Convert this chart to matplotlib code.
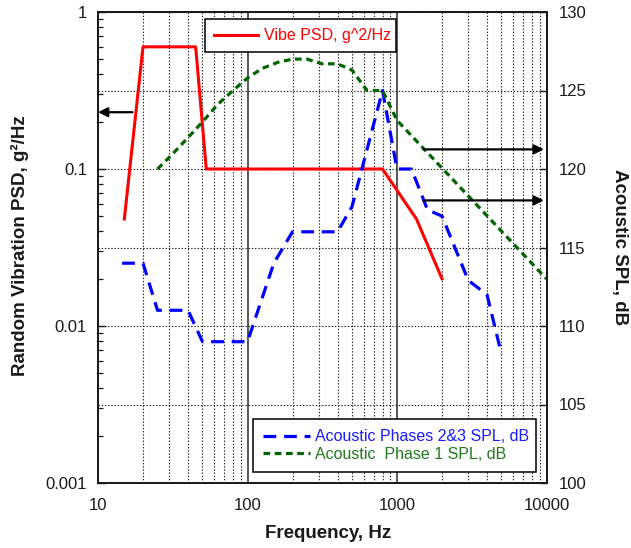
import matplotlib
matplotlib.use("Agg")
import matplotlib.pyplot as plt
from matplotlib.ticker import LogLocator, FixedLocator, FuncFormatter, NullFormatter, NullLocator
from matplotlib.lines import Line2D

# Random vibration PSD envelope (left axis, g^2/Hz)
vibe_freq = [15, 20, 45, 53, 800, 1350, 2000]
vibe_psd = [0.048, 0.6, 0.6, 0.1, 0.1, 0.048, 0.02]

# Acoustic Phase 1 SPL (right axis, dB)
p1_freq = [25, 31.5, 40, 50, 63, 80, 100, 125, 160, 200, 250, 315, 400,
           500, 630, 800, 1000, 10000]
p1_spl = [120.0, 120.95, 122.0, 123.0, 124.1, 125.0, 125.8, 126.4, 126.8,
          127.0, 127.0, 126.7, 126.7, 126.3, 125.0, 125.0, 123.1, 113.0]

# Acoustic Phases 2&3 SPL (right axis, dB)
p23_freq = [14.5, 20, 25, 40, 50, 100, 150, 200, 400, 500, 800, 1000, 1250,
            1600, 2000, 3000, 4000, 5000]
p23_spl = [114, 114, 111, 111, 109, 109, 114, 116, 116, 117.6, 125, 120, 120,
           117.4, 117, 112.9, 112, 108.2]

# Pointer arrows showing which axis each curve belongs to
psd_arrow_freq = [17, 10]          # tail, head
psd_arrow_level = 0.23
spl_arrow_freq = [1500, 9600]      # tail, head
spl_arrow_levels = [121.25, 118.0]

freq_ticks = [10, 100, 1000, 10000]
psd_ticks = [0.001, 0.01, 0.1, 1]
spl_ticks = [100, 105, 110, 115, 120, 125, 130]

vibe_label = "Vibe PSD, g^2/Hz"
p23_label = "Acoustic Phases 2&3 SPL, dB"
p1_label = "Acoustic  Phase 1 SPL, dB"

RED = "#ff0000"
BLUE = "#0000ff"
GREEN = "#006400"
INK = "#1a1a1a"

plt.rcParams["font.family"] = ["Liberation Sans", "DejaVu Sans"]
plt.rcParams["lines.scale_dashes"] = False

fig = plt.figure(figsize=(6.31, 5.48), dpi=100)
pos = [98 / 631, 65 / 548, 448.5 / 631, 471 / 548]

# --- background grid layer -------------------------------------------------
gax = fig.add_axes(pos, zorder=0)
gax.set_xscale("log")
gax.set_xlim(10, 10000)
gax.set_ylim(100, 130)
gax.xaxis.set_major_locator(FixedLocator(freq_ticks))
gax.xaxis.set_minor_locator(LogLocator(base=10, subs=range(2, 10)))
gax.xaxis.set_minor_formatter(NullFormatter())
gax.set_yticks(spl_ticks)
dot = (0, (1.0, 1.3))
gax.grid(True, which="major", axis="x", color="#2a2a2a", lw=1.1, ls="-")
gax.grid(True, which="minor", axis="x", color="#222222", lw=0.8, ls=dot)
gax.grid(True, which="major", axis="y", color="#222222", lw=0.8, ls=dot)
gax.tick_params(which="both", length=0, labelbottom=False, labelleft=False)
for s in gax.spines.values():
    s.set_visible(False)

# --- left axis: vibration PSD ---------------------------------------------
ax = fig.add_axes(pos, zorder=1)
ax.patch.set_visible(False)
ax.set_xscale("log")
ax.set_yscale("log")
ax.set_xlim(10, 10000)
ax.set_ylim(0.001, 1)
ax.xaxis.set_major_locator(FixedLocator(freq_ticks))
ax.xaxis.set_minor_locator(NullLocator())
ax.xaxis.set_major_formatter(FuncFormatter(lambda v, p: f"{v:g}"))
ax.yaxis.set_major_locator(FixedLocator(psd_ticks))
ax.yaxis.set_minor_locator(LogLocator(base=10, subs=range(2, 10)))
ax.yaxis.set_minor_formatter(NullFormatter())
ax.yaxis.set_major_formatter(FuncFormatter(lambda v, p: f"{v:g}"))
ax.tick_params(axis="x", which="major", length=0, pad=11, labelsize=12,
               labelcolor=INK)
ax.tick_params(axis="y", which="major", direction="in", length=6, width=1.0,
               pad=8, labelsize=12, labelcolor=INK, color=INK)
ax.tick_params(axis="y", which="minor", direction="in", length=3.5,
               width=0.9, color=INK)
for s in ax.spines.values():
    s.set_linewidth(1.3)
    s.set_color(INK)

ax.plot(vibe_freq, vibe_psd, color=RED, lw=2.2)

ax.annotate("", xy=(psd_arrow_freq[1], psd_arrow_level),
            xytext=(psd_arrow_freq[0], psd_arrow_level),
            arrowprops=dict(arrowstyle="-|>", color="black", lw=1.6,
                            mutation_scale=14, shrinkA=0, shrinkB=0),
            annotation_clip=False)

# --- right axis: acoustic SPL ----------------------------------------------
ax2 = ax.twinx()
ax2.set_zorder(2)
ax2.patch.set_visible(False)
ax2.set_ylim(100, 130)
ax2.set_yticks(spl_ticks)
ax2.tick_params(axis="y", which="major", direction="in", length=5,
                width=1.0, pad=9, labelsize=12, labelcolor=INK, color=INK)
for s in ax2.spines.values():
    s.set_linewidth(1.3)
    s.set_color(INK)

ax2.plot(p23_freq, p23_spl, color=BLUE, lw=2.3, ls=(0, (9.2, 5.6)))
ax2.plot(p1_freq, p1_spl, color=GREEN, lw=2.3, ls=(0, (4.8, 3.3)))

for lvl in spl_arrow_levels:
    ax2.annotate("", xy=(spl_arrow_freq[1], lvl),
                 xytext=(spl_arrow_freq[0], lvl),
                 arrowprops=dict(arrowstyle="-|>", color="black", lw=1.6,
                                 mutation_scale=14, shrinkA=0, shrinkB=0),
                 annotation_clip=False)

# --- legends -----------------------------------------------------------------
leg_kw = dict(fancybox=False, edgecolor="black", framealpha=1,
              borderaxespad=0, fontsize=11.5, mode="expand",
              loc="upper left")

leg1 = ax2.legend(handles=[Line2D([], [], color=RED, lw=2.2)],
                  labels=[vibe_label],
                  bbox_to_anchor=(0.2386, 0.914, 0.4258, 0.071),
                  handlelength=2.75, handletextpad=0.35, borderpad=0.57,
                  labelcolor=[RED], **leg_kw)
leg1.get_frame().set_linewidth(1.1)
ax2.add_artist(leg1)

leg2 = ax2.legend(handles=[Line2D([], [], color=BLUE, lw=2.3, ls=(0, (9.2, 5.6))),
                           Line2D([], [], color=GREEN, lw=2.3, ls=(0, (4.8, 3.3)))],
                  labels=[p23_label, p1_label],
                  bbox_to_anchor=(0.345, 0.024, 0.6316, 0.1119),
                  handlelength=2.95, handletextpad=0.3, borderpad=0.65,
                  labelspacing=0.15,
                  labelcolor=["#1a1aff", "#1f7a1f"], **leg_kw)
leg2.get_frame().set_linewidth(1.1)

# --- axis titles -------------------------------------------------------------
fig.text(19.5 / 631, 1 - 245.5 / 548, "Random Vibration PSD, g\u00b2/Hz",
         rotation=90, ha="center", va="center", fontsize=13.5,
         fontweight="bold", color=INK)
fig.text(620 / 631, 1 - 247.5 / 548, "Acoustic SPL, dB",
         rotation=270, ha="center", va="center", fontsize=13.5,
         fontweight="bold", color=INK)
fig.text(328 / 631, 1 - 533 / 548, "Frequency, Hz",
         ha="center", va="center", fontsize=13.5, fontweight="bold",
         color=INK)

fig.savefig("out.png", dpi=100)
